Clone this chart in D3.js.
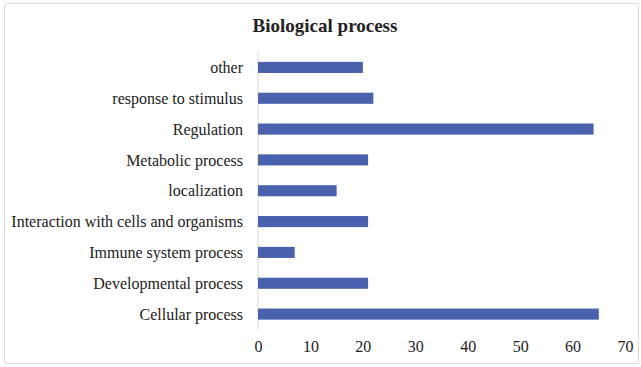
<!DOCTYPE html>
<head>
<meta charset="utf-8">
<title>Biological process</title>
<style>
    body { margin:0; background:#fff; }
    svg { display:block; }
    text { font-family: "Liberation Serif", "Times New Roman", serif; fill:#222; }
</style>
</head>
<body>
<svg width="641" height="367"></svg>

<script src="https://cdnjs.cloudflare.com/ajax/libs/d3/7.8.5/d3.min.js"></script>
<script>
// top-to-bottom order as shown
var categories = ["other", "response to stimulus", "Regulation", "Metabolic process", "localization",
                  "Interaction with cells and organisms", "Immune system process", "Developmental process", "Cellular process"];
var values = [20, 22, 64, 21, 15, 21, 7, 21, 65];
var xTicks = [0, 10, 20, 30, 40, 50, 60, 70];

var svg = d3.select("svg");

// frame
svg.append("rect")
    .attr("x", 4.5).attr("y", 3.5)
    .attr("width", 634).attr("height", 360)
    .attr("rx", 2)
    .attr("fill", "#fff")
    .attr("stroke", "#d9d9d9");

var x = d3.scaleLinear().domain([0, 70]).range([258, 625]);
var y = d3.scaleBand().domain(categories).range([52, 329.5]).paddingInner(0.64).paddingOuter(0.32);

svg.append("text")
    .attr("x", 325).attr("y", 32)
    .attr("text-anchor", "middle")
    .style("font-size", "19px")
    .style("font-weight", "bold")
    .text("Biological process");

// vertical axis line
svg.append("line")
    .attr("x1", x(0)).attr("x2", x(0))
    .attr("y1", 52).attr("y2", 330)
    .attr("stroke", "#d9d9d9");

svg.selectAll(".bar")
    .data(values)
  .enter().append("rect")
    .attr("class", "bar")
    .attr("x", x(0))
    .attr("y", function(d, i){ return y(categories[i]); })
    .attr("width", function(d){ return x(d) - x(0); })
    .attr("height", y.bandwidth())
    .attr("fill", "#4a61ad");

svg.selectAll(".cat")
    .data(categories)
  .enter().append("text")
    .attr("class", "cat")
    .attr("x", 243)
    .attr("y", function(d){ return y(d) + y.bandwidth() / 2; })
    .attr("dy", "0.35em")
    .attr("text-anchor", "end")
    .style("font-size", "16px")
    .text(function(d){ return d; });

var xAxis = d3.axisBottom(x).tickValues(xTicks).tickSize(0).tickPadding(0);
var gx = svg.append("g")
    .attr("transform", "translate(0,341)")
    .call(xAxis);
gx.select(".domain").remove();
gx.selectAll("text")
    .style("font-size", "16px")
    .style("font-family", "'Liberation Serif', serif")
    .attr("fill", "#222");
</script>
</body>
